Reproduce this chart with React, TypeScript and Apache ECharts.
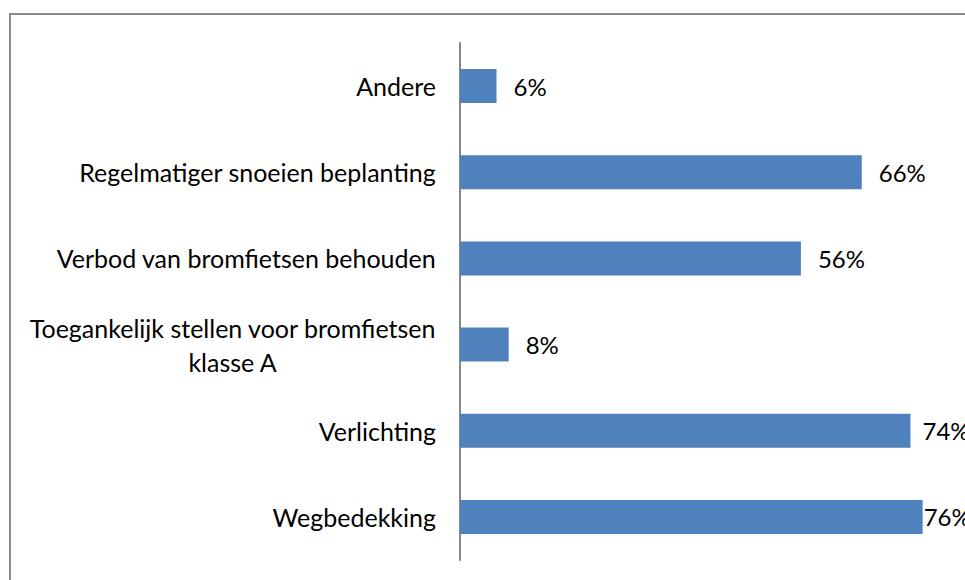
import React, { useEffect, useRef } from "react";
import * as echarts from "echarts";

const categories = [
  "Andere",
  "Regelmatiger snoeien beplanting",
  "Verbod van bromfietsen behouden",
  "Toegankelijk stellen voor bromfietsen\nklasse A",
  "Verlichting",
  "Wegbedekking",
];
const values = [6, 66, 56, 8, 74, 76];

// label distance overrides (labels clamped at the chart's right edge)
const labelDistanceByCategory: Record<string, number> = {
  Verlichting: 12,
  Wegbedekking: 1,
};

const FONT = "Lato, 'Open Sans', sans-serif";

export default function App() {
  const ref = useRef<HTMLDivElement>(null);
  useEffect(() => {
    if (!ref.current) return;
    const chart = echarts.init(ref.current, undefined, { renderer: "svg" });
    chart.setOption({
      animation: false,
      backgroundColor: "#ffffff",
      grid: { left: 460, top: 43, right: 18, bottom: 20, containLabel: false },
      graphic: [
        {
          type: "rect",
          shape: { x: 10, y: 14, width: 2000, height: 2000 },
          style: { fill: "none", stroke: "#8c8c8c", lineWidth: 2 },
          silent: true,
        },
      ],
      xAxis: {
        type: "value",
        min: 0,
        max: 80,
        show: false,
        splitLine: { show: false },
      },
      yAxis: {
        type: "category",
        inverse: true,
        data: categories,
        axisTick: { show: false },
        axisLine: { show: true, lineStyle: { color: "#868686", width: 2 } },
        axisLabel: {
          margin: 24,
          color: "#000",
          fontSize: 25,
          fontFamily: FONT,
          formatter: (v: string) =>
            v
              .split("\n")
              .map((l) => `{c|${l}}`)
              .join("\n"),
          rich: {
            c: {
              align: "center",
              fontSize: 25,
              fontFamily: FONT,
              color: "#000",
              lineHeight: 34,
            },
          },
        },
      },
      series: [
        {
          type: "bar",
          barWidth: 34,
          data: values.map((v, i) => ({
            value: v,
            label: {
              distance: labelDistanceByCategory[categories[i]] ?? 17,
            },
          })),
          itemStyle: { color: "#4F81BD" },
          label: {
            show: true,
            position: "right",
            formatter: "{c}%",
            color: "#000",
            fontSize: 24,
            fontFamily: FONT,
          },
        },
      ],
    });
    return () => chart.dispose();
  }, []);
  return (
    <div
      ref={ref}
      style={{ position: "absolute", left: 0, top: 0, width: 965, height: 580 }}
    />
  );
}
